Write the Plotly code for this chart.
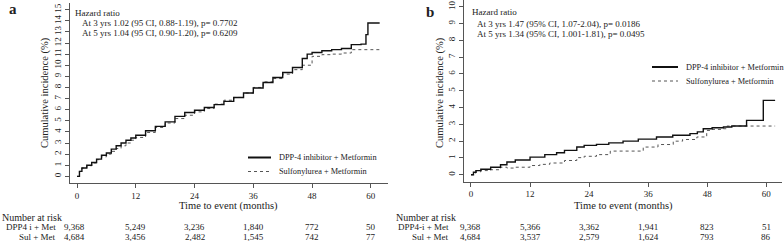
import plotly.graph_objects as go

W, H = 784, 241

# ---------------- data ----------------
a_dpp_t = [0, 0.5, 1, 2, 3, 4, 5, 6, 7, 8, 9, 10, 11, 12, 14, 16, 18, 20, 22, 24, 26, 28, 30, 32, 34, 36,
           38, 40, 42, 44, 46, 47, 48, 50, 52, 54, 56, 58, 59, 59.4, 61.8]
a_dpp_v = [0, 0.45, 0.75, 1.0, 1.25, 1.55, 1.9, 2.1, 2.45, 2.75, 3.0, 3.25, 3.45, 3.7, 4.1, 4.5, 4.9, 5.4,
           5.75, 5.95, 6.2, 6.45, 6.75, 7.1, 7.5, 7.95, 8.45, 8.9, 9.35, 9.8, 10.6, 11.0, 11.15, 11.3, 11.4,
           11.5, 11.85, 11.9, 12.75, 13.8, 13.8]
a_sul_t = [0, 0.5, 1, 2, 3, 4, 5, 6, 7, 8, 9, 10, 11, 12, 14, 16, 18, 20, 22, 24, 26, 28, 30, 32, 34, 36,
           38, 40, 42, 44, 46, 48, 50, 52, 54, 56, 58, 60, 61.8]
a_sul_v = [0, 0.45, 0.75, 0.95, 1.2, 1.5, 1.75, 2.0, 2.25, 2.5, 2.75, 3.0, 3.25, 3.5, 3.95, 4.4, 4.8, 5.2,
           5.5, 5.8, 6.1, 6.5, 6.85, 7.1, 7.5, 8.0, 8.5, 8.8, 9.2, 9.6, 10.0, 10.8, 10.95, 11.0, 11.1, 11.4,
           11.4, 11.4, 11.4]

b_dpp_t = [0, 0.5, 1, 2, 4, 6, 7.3, 9, 12, 15, 17.4, 19, 21.5, 23, 25.5, 28, 30.9, 34, 37.7, 41, 44.5, 46,
           47.2, 49, 51.3, 53, 56, 59.4, 61.8]
b_dpp_v = [0, 0.15, 0.25, 0.33, 0.45, 0.6, 0.76, 0.88, 1.05, 1.2, 1.31, 1.45, 1.65, 1.75, 1.81, 1.9, 2.0,
           2.12, 2.25, 2.35, 2.45, 2.55, 2.74, 2.8, 2.84, 2.9, 3.24, 4.43, 4.43]
b_sul_t = [0, 0.5, 1, 2, 4, 6, 7.3, 9, 12, 14, 16, 19, 21.5, 23, 25.5, 28.3, 32.3, 35, 38, 41.1, 43, 45.9,
           47.9, 49, 51.3, 52, 56, 61.8]
b_sul_v = [0, 0.1, 0.18, 0.25, 0.3, 0.45, 0.4, 0.45, 0.55, 0.62, 0.7, 0.85, 1.02, 1.1, 1.2, 1.41, 1.41,
           1.65, 1.8, 2.0, 2.1, 2.25, 2.64, 2.7, 2.74, 2.9, 2.9, 2.9]

x_ticks = [0, 12, 24, 36, 48, 60]
a_y_ticks = list(range(0, 16))
b_y_ticks = list(range(0, 11))

a_risk_dpp = ["9,368", "5,249", "3,236", "1,840", "772", "50"]
a_risk_sul = ["4,684", "3,456", "2,482", "1,545", "742", "77"]
b_risk_dpp = ["9,368", "5,366", "3,362", "1,941", "823", "51"]
b_risk_sul = ["4,684", "3,537", "2,579", "1,624", "793", "86"]

a_hr = ["Hazard ratio",
        "At 3 yrs 1.02 (95 CI, 0.88-1.19), p= 0.7702",
        "At 5 yrs 1.04 (95 CI, 0.90-1.20), p= 0.6209"]
b_hr = ["Hazard ratio",
        "At 3 yrs 1.47 (95% CI, 1.07-2.04), p= 0.0186",
        "At 5 yrs 1.34 (95% CI, 1.001-1.81), p= 0.0495"]
legend_names = ["DPP-4 inhibitor + Metformin", "Sulfonylurea + Metformin"]
a_row_labels = ["DPP4 i + Met", "Sul + Met"]
b_row_labels = ["DPP4-i + Met", "Sul + Met"]

# ---------------- helpers ----------------
FONT = "Liberation Serif, Times New Roman, serif"
TXT = "#222222"


def px(x):
    return x / W


def py(y):
    return 1 - y / H


fig = go.Figure()

solid = dict(color="#111111", width=1.4)
dashed = dict(color="#555555", width=1, dash="dot")

fig.add_trace(go.Scatter(x=a_sul_t, y=a_sul_v, mode="lines", line=dict(shape="hv", **dashed),
                         xaxis="x", yaxis="y", showlegend=False))
fig.add_trace(go.Scatter(x=a_dpp_t, y=a_dpp_v, mode="lines", line=dict(shape="hv", **solid),
                         xaxis="x", yaxis="y", showlegend=False))
fig.add_trace(go.Scatter(x=b_sul_t, y=b_sul_v, mode="lines", line=dict(shape="hv", **dashed),
                         xaxis="x2", yaxis="y2", showlegend=False))
fig.add_trace(go.Scatter(x=b_dpp_t, y=b_dpp_v, mode="lines", line=dict(shape="hv", **solid),
                         xaxis="x2", yaxis="y2", showlegend=False))

ax_common = dict(showgrid=False, zeroline=False, showline=True, linecolor="#555555", linewidth=1,
                 ticks="outside", ticklen=4, tickwidth=1, tickcolor="#555555",
                 tickfont=dict(family=FONT, size=9, color=TXT), fixedrange=True)

fig.update_layout(
    width=W, height=H, margin=dict(l=0, r=0, t=0, b=0),
    paper_bgcolor="white", plot_bgcolor="white", showlegend=False,
    xaxis=dict(domain=[px(70), px(388)], range=[-1.43, 63.5], tickvals=x_ticks, anchor="y", **ax_common),
    yaxis=dict(domain=[py(183), py(3)], range=[-0.6, 15.6], tickvals=a_y_ticks, tickangle=-90,
               anchor="x", **ax_common),
    xaxis2=dict(domain=[px(464), px(782)], range=[-1.42, 63.2], tickvals=x_ticks, anchor="y2", **ax_common),
    yaxis2=dict(domain=[py(181.5), py(0)], range=[-0.4, 10.4], tickvals=b_y_ticks, tickangle=-90,
                anchor="x2", **ax_common),
)

ann = []


def text(x, y, s, size=10, xanchor="left", xref="paper", angle=0, xshift=0):
    ann.append(dict(x=x if xref != "paper" else px(x), y=py(y), xref=xref, yref="paper", text=s,
                    showarrow=False, xanchor=xanchor, yanchor="middle", textangle=angle, xshift=xshift,
                    font=dict(family=FONT, size=size, color=TXT)))


# panel letters
text(7, 9, "<b>a</b>", size=15)
text(424, 12, "<b>b</b>", size=15)

# y-axis titles
text(45, 93, "Cumulative incidence (%)", size=10.5, xanchor="center", angle=-90)
text(440, 92, "Cumulative incidence (%)", size=10.5, xanchor="center", angle=-90)

# x-axis titles
text(229, 206, "Time to event (months)", size=10.5, xanchor="center")
text(623, 206, "Time to event (months)", size=10.5, xanchor="center")

# hazard ratio texts
text(73, 13, a_hr[0], size=9)
text(80, 23.5, a_hr[1], size=9)
text(80, 33, a_hr[2], size=9)
text(470, 12, b_hr[0], size=9)
text(475, 24, b_hr[1], size=9)
text(475, 34, b_hr[2], size=9)

# legends
text(277, 157.5, legend_names[0], size=8.3)
text(277, 171.5, legend_names[1], size=8.3)
text(684, 67, legend_names[0], size=8.3)
text(684, 81, legend_names[1], size=8.3)

shapes = [
    dict(type="line", xref="paper", yref="paper", x0=px(248), x1=px(271), y0=py(157.5), y1=py(157.5),
         line=dict(color="#111111", width=2)),
    dict(type="line", xref="paper", yref="paper", x0=px(248), x1=px(271), y0=py(171.5), y1=py(171.5),
         line=dict(color="#555555", width=1, dash="dot")),
    dict(type="line", xref="paper", yref="paper", x0=px(652), x1=px(678), y0=py(67), y1=py(67),
         line=dict(color="#111111", width=2)),
    dict(type="line", xref="paper", yref="paper", x0=px(652), x1=px(678), y0=py(81), y1=py(81),
         line=dict(color="#555555", width=1, dash="dot")),
]

# number at risk tables
text(0, 217, "Number at risk", size=10)
text(394, 217, "Number at risk", size=10)
text(58, 227, a_row_labels[0], size=9, xanchor="right")
text(58, 236.5, a_row_labels[1], size=9, xanchor="right")
text(451, 227, b_row_labels[0], size=9, xanchor="right")
text(451, 236.5, b_row_labels[1], size=9, xanchor="right")
for i, t in enumerate(x_ticks):
    sh = -3 if i == 0 else 0
    text(t, 227, a_risk_dpp[i], size=9, xanchor="center", xref="x", xshift=sh)
    text(t, 236.5, a_risk_sul[i], size=9, xanchor="center", xref="x", xshift=sh)
    text(t, 227, b_risk_dpp[i], size=9, xanchor="center", xref="x2")
    text(t, 236.5, b_risk_sul[i], size=9, xanchor="center", xref="x2")

fig.update_layout(annotations=ann, shapes=shapes)
fig.write_html("out.html", config={"displayModeBar": False},
               post_script="document.body.style.margin='0';document.body.style.overflow='hidden';")
